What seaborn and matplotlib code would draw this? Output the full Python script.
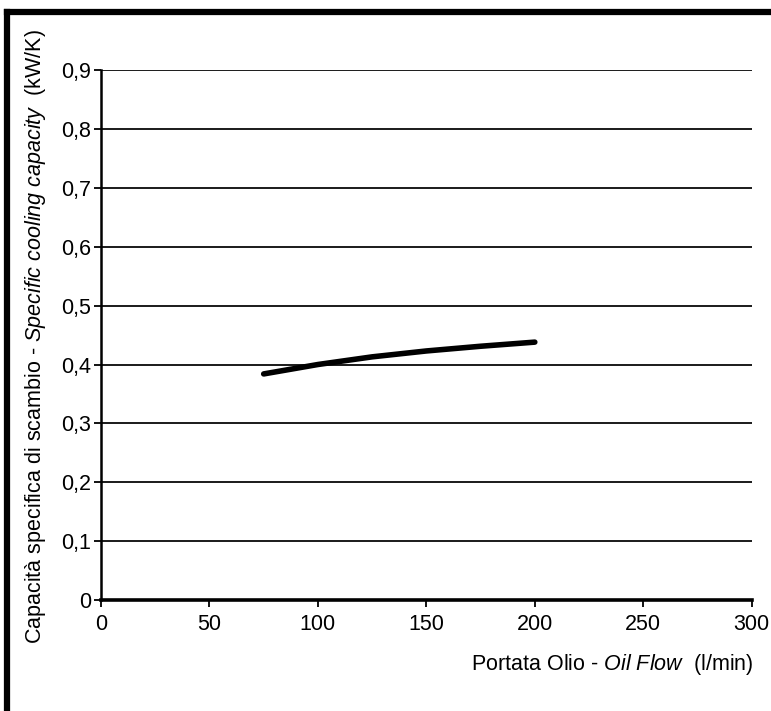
import matplotlib
matplotlib.use("Agg")
import matplotlib.pyplot as plt
from matplotlib.lines import Line2D
import pandas as pd
import seaborn as sns

# valori
oil_flow = [75, 100, 125, 150, 175, 200]
capacity = [0.384, 0.400, 0.413, 0.423, 0.431, 0.438]
x_ticks = [0, 50, 100, 150, 200, 250, 300]
y_ticks = [0, 0.1, 0.2, 0.3, 0.4, 0.5, 0.6, 0.7, 0.8, 0.9]
y_tick_labels = ['0', '0,1', '0,2', '0,3', '0,4', '0,5', '0,6', '0,7', '0,8', '0,9']

sns.set_style('white')
plt.rcParams['font.family'] = ['Liberation Sans', 'DejaVu Sans']
plt.rcParams['mathtext.fontset'] = 'custom'
plt.rcParams['mathtext.rm'] = 'Liberation Sans'
plt.rcParams['mathtext.it'] = 'Liberation Sans:italic'
plt.rcParams['text.color'] = 'black'

df = pd.DataFrame({'flow': oil_flow, 'cap': capacity})

fig = plt.figure(figsize=(7.71, 7.11), dpi=100)
ax = fig.add_axes([0.131, 0.156, 0.844, 0.7455])

for y in y_ticks[1:]:
    ax.axhline(y, color='#1a1a1a', lw=1.4, zorder=1)

sns.lineplot(data=df, x='flow', y='cap', color='black', lw=4.0,
             solid_capstyle='round', ax=ax, zorder=3)

ax.set_xlim(0, 300)
ax.set_ylim(0, 0.9)
ax.set_xticks(x_ticks)
ax.set_xticklabels([str(t) for t in x_ticks])
ax.set_yticks(y_ticks)
ax.set_yticklabels(y_tick_labels)
ax.tick_params(axis='both', labelsize=15.5, colors='black', direction='out',
               length=5, width=1.3, bottom=True, left=True)
ax.tick_params(axis='x', pad=5)
ax.tick_params(axis='y', pad=2)

for side in ['top', 'right']:
    ax.spines[side].set_visible(False)
ax.spines['left'].set_linewidth(1.8)
ax.spines['left'].set_color('black')
ax.spines['bottom'].set_linewidth(2.6)
ax.spines['bottom'].set_color('black')

ax.set_xlabel('')
ax.set_ylabel('')
fig.text(0.977, 0.065, r'Portata Olio - $\mathit{Oil\ Flow}$  (l/min)',
         ha='right', va='center', fontsize=15.5)
fig.text(0.046, 0.527,
         r'Capacità specifica di scambio - $\mathit{Specific\ cooling\ capacity}$  (kW/K)',
         ha='center', va='center', rotation=90, fontsize=15.5)

# cornice nera in alto e a sinistra
fig.add_artist(Line2D([0.0097, 1.0], [0.9825, 0.9825], color='black', lw=4.5,
                      transform=fig.transFigure, solid_capstyle='projecting'))
fig.add_artist(Line2D([0.0097, 0.0097], [0.0, 0.9825], color='black', lw=4.5,
                      transform=fig.transFigure, solid_capstyle='projecting'))

fig.savefig('out.png', dpi=100)
